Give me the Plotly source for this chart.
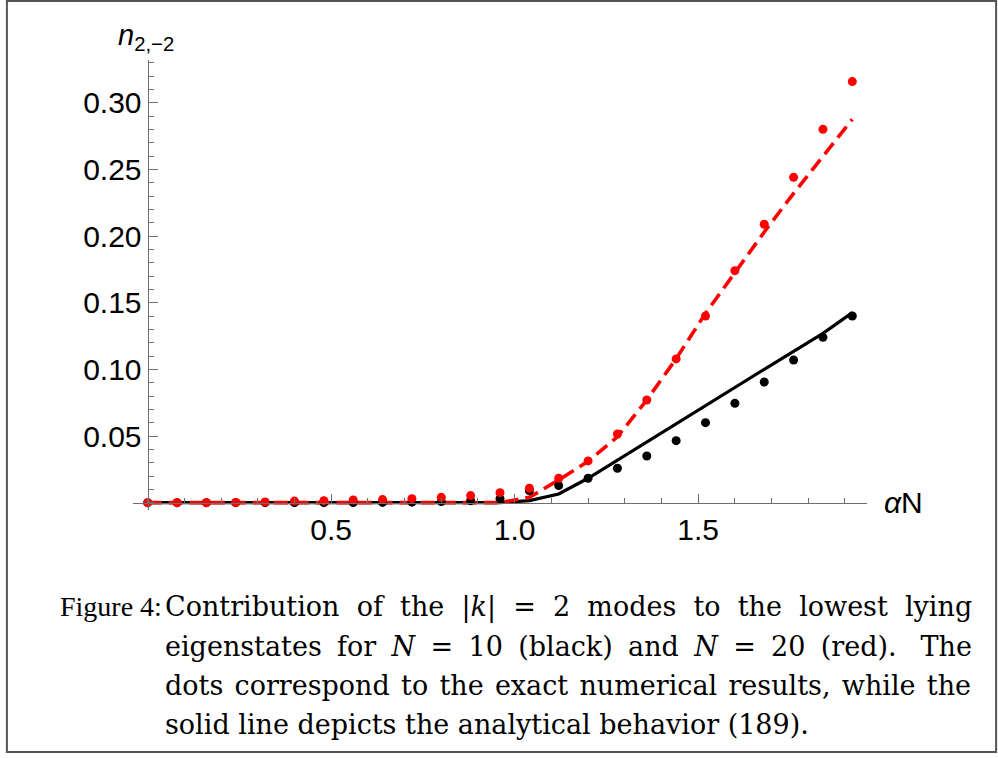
import plotly.graph_objects as go

# ---------------- data ----------------
alphaN = [round(0.08 * i, 2) for i in range(25)]

# N = 20 exact numerical results (red dots)
red_dots = [0.0, 0.0, 0.0, 0.0002, 0.0005, 0.0012, 0.0015, 0.002, 0.0023, 0.003,
            0.004, 0.0053, 0.0075, 0.0108, 0.0183, 0.0313, 0.0515, 0.077, 0.1078,
            0.140, 0.174, 0.2088, 0.244, 0.280, 0.3158]
# N = 10 exact numerical results (black dots)
black_dots = [0.0, 0.0, 0.0, 0.0, 0.0, 0.0, 0.0, 0.0001, 0.0002, 0.0004,
              0.0008, 0.0015, 0.003, 0.009, 0.0128, 0.0183, 0.0258, 0.035, 0.0465,
              0.060, 0.0745, 0.0905, 0.107, 0.124, 0.140]
# N = 10 analytical (black solid)
black_line = [0.0] * 13 + [0.0015, 0.0065, 0.0183, 0.032, 0.0456, 0.0593, 0.073,
                           0.0865, 0.100, 0.1135, 0.127, 0.1425]
# N = 20 analytical (red dashed)
red_line = [0.0] * 13 + [0.004, 0.017, 0.031, 0.0495, 0.077, 0.108, 0.142,
                         0.173, 0.203, 0.232, 0.260, 0.2875]

x_tickvals = [0.5, 1.0, 1.5]
x_ticktext = ["0.5", "1.0", "1.5"]
y_tickvals = [0.05, 0.10, 0.15, 0.20, 0.25, 0.30]
y_ticktext = ["0.05", "0.10", "0.15", "0.20", "0.25", "0.30"]

caption_label = "Figure 4:"
caption_lines = [
    "Contribution of the |<i>k</i>| = 2 modes to the lowest lying",
    "eigenstates for <i>N</i> = 10 (black) and <i>N</i> = 20 (red).\u00a0 The",
    "dots correspond to the exact numerical results, while the",
    "solid line depicts the analytical behavior (189).",
]
# extra inter-word space per line, imitating the justified paragraph
caption_gaps = ["\u00a0", "\u2005", "\u200a", ""]

# ---------------- layout geometry (pixels) ----------------
W, H = 998, 758
L, R, T, B = 132.7, 130.7, 60.0, 248.0
PW, PH = W - L - R, H - T - B
XR = [-0.04, 1.96]
YR = [-0.0055, 0.332]


def px(xpix):
    return (xpix - L) / PW


def py(ypix):
    return (H - B - ypix) / PH


RED = "#ff0000"
AX = "#6e6e6e"

fig = go.Figure()
fig.add_trace(go.Scatter(x=alphaN, y=black_line, mode="lines",
                         line=dict(color="black", width=3.2), hoverinfo="skip"))
fig.add_trace(go.Scatter(x=alphaN, y=red_line, mode="lines",
                         line=dict(color=RED, width=3.6, dash="14px,7px"), hoverinfo="skip"))
fig.add_trace(go.Scatter(x=alphaN, y=black_dots, mode="markers",
                         marker=dict(color="black", size=9), hoverinfo="skip"))
fig.add_trace(go.Scatter(x=alphaN, y=red_dots, mode="markers",
                         marker=dict(color=RED, size=9), hoverinfo="skip"))

tickfont = dict(family="Liberation Sans, Arial, sans-serif", size=30, color="black")

fig.update_layout(
    width=W, height=H,
    margin=dict(l=L, r=R, t=T, b=B, pad=0),
    paper_bgcolor="white", plot_bgcolor="white",
    showlegend=False,
    xaxis=dict(
        range=XR, anchor="free", position=(0 - YR[0]) / (YR[1] - YR[0]),
        showgrid=False, zeroline=False, showline=True, linecolor=AX, linewidth=1.3,
        tickmode="array", tickvals=x_tickvals, ticktext=x_ticktext,
        ticks="inside", ticklen=9, tickwidth=1.2, tickcolor=AX,
        tickfont=tickfont,
        minor=dict(tickmode="linear", tick0=0, dtick=0.1, ticks="inside",
                   ticklen=5, tickwidth=1, tickcolor=AX, showgrid=False),
    ),
    yaxis=dict(
        range=YR, anchor="free", position=(0 - XR[0]) / (XR[1] - XR[0]),
        showgrid=False, zeroline=False, showline=True, linecolor=AX, linewidth=1.3,
        tickmode="array", tickvals=y_tickvals, ticktext=y_ticktext,
        ticks="inside", ticklen=9, tickwidth=1.2, tickcolor=AX,
        tickfont=tickfont,
        minor=dict(tickmode="linear", tick0=0, dtick=0.01, ticks="inside",
                   ticklen=5, tickwidth=1, tickcolor=AX, showgrid=False),
    ),
)

annots = []
# axis labels
annots.append(dict(x=px(116), y=py(37), xref="paper", yref="paper",
                   text="<i>n</i><sub>2,\u22122</sub>", showarrow=False,
                   xanchor="left", yanchor="middle",
                   font=dict(family="Liberation Sans, Arial, sans-serif", size=29, color="black")))
annots.append(dict(x=px(882), y=py(502), xref="paper", yref="paper",
                   text="<i>\u03b1</i>N", showarrow=False,
                   xanchor="left", yanchor="middle",
                   font=dict(family="Liberation Sans, Arial, sans-serif", size=30, color="black")))

capfont = dict(family="DejaVu Serif, serif", size=27, color="black")
annots.append(dict(x=px(58), y=py(606), xref="paper", yref="paper", text=caption_label,
                   showarrow=False, xanchor="left", yanchor="middle",
                   font=dict(family="Liberation Serif, serif", size=28, color="black")))
for i, (line, gap) in enumerate(zip(caption_lines, caption_gaps)):
    text = line.replace(" ", " " + gap) if gap else line
    annots.append(dict(x=px(163), y=py(607 + 39 * i), xref="paper", yref="paper", text=text,
                       showarrow=False, xanchor="left", yanchor="middle", font=capfont))
fig.update_layout(annotations=annots)

# outer frame of the figure box
fig.add_shape(type="rect", xref="paper", yref="paper",
              x0=px(6.5), x1=px(996.5), y0=py(752), y1=py(1),
              line=dict(color="#555555", width=2), fillcolor="rgba(0,0,0,0)", layer="below")

fig.write_html("out.html")
